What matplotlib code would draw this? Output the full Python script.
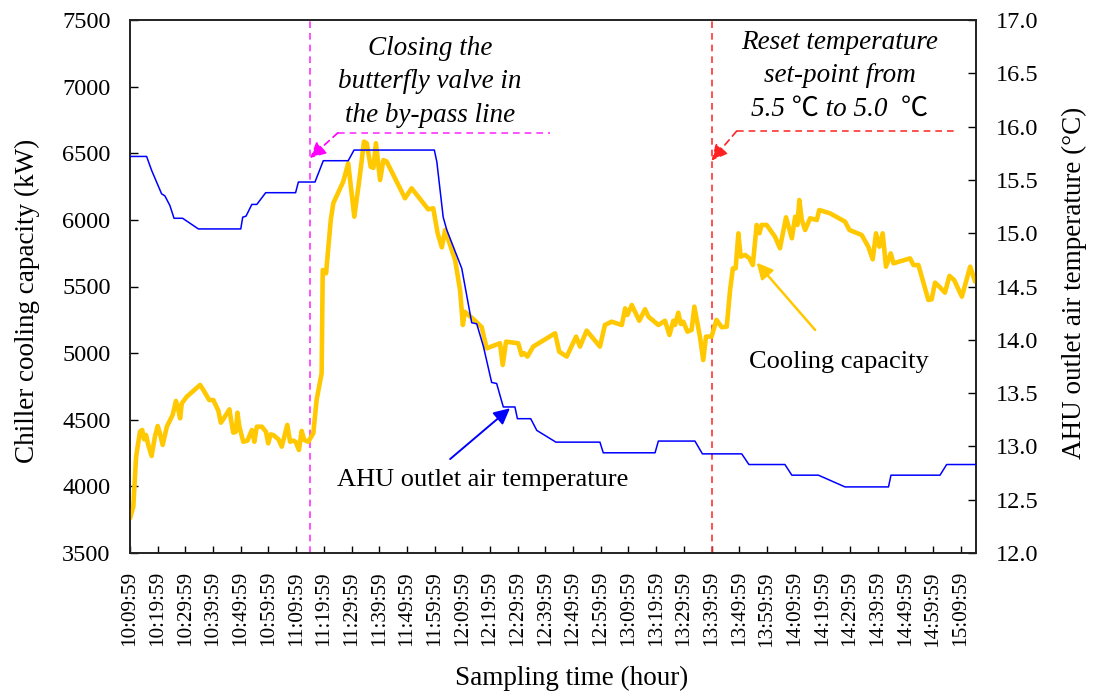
import matplotlib
matplotlib.use("Agg")
import matplotlib.pyplot as plt

plt.rcParams['font.family'] = ['Liberation Serif', 'Noto Sans CJK SC', 'DejaVu Serif']

# minutes after 10:09:59
tick_minutes = list(range(0, 301, 10))
tick_labels = ["10:09:59", "10:19:59", "10:29:59", "10:39:59", "10:49:59", "10:59:59",
               "11:09:59", "11:19:59", "11:29:59", "11:39:59", "11:49:59", "11:59:59",
               "12:09:59", "12:19:59", "12:29:59", "12:39:59", "12:49:59", "12:59:59",
               "13:09:59", "13:19:59", "13:29:59", "13:39:59", "13:49:59", "13:59:59",
               "14:09:59", "14:19:59", "14:29:59", "14:39:59", "14:49:59", "14:59:59",
               "15:09:59"]

# Chiller cooling capacity (kW)
cap_t = [0.0, 1.2, 2.2, 3.6, 4.4, 5.1, 5.8, 6.6, 7.8, 9.0, 10.0, 10.8, 11.8, 12.6, 13.3,
         15.4, 16.6, 17.2, 18.1, 18.7, 20.5, 25.3, 26.5, 28.6, 30.1, 31.9, 32.8, 33.9,
         35.9, 36.5, 37.3, 38.2, 38.8, 39.5, 40.9, 42.4, 44.0, 44.9, 45.8, 47.6, 49.1,
         49.9, 50.8, 51.8, 53.6, 54.8, 56.8, 57.8, 59.0, 59.8, 61.0, 62.0, 62.9, 64.4,
         66.2, 67.4, 69.2, 69.6, 70.8, 72.5, 73.4, 77.0, 78.8, 81.0, 82.8, 84.5, 85.5,
         86.9, 87.9, 88.8, 90.3, 91.5, 92.7, 99.3, 101.7, 107.7, 109.5, 111.1, 112.6,
         113.8, 117.4, 119.2, 120.2, 120.9, 124.0, 127.0, 128.8, 133.6, 134.6, 135.8,
         140.2, 141.4, 142.3, 143.5, 145.6, 153.5, 155.0, 157.7, 161.1, 162.5, 164.9,
         169.7, 171.5, 173.9, 177.6, 178.8, 179.6, 181.2, 183.9, 186.0, 187.2, 190.8,
         193.2, 194.8, 196.2, 196.8, 198.0, 198.9, 199.8, 201.3, 202.8, 203.8, 205.8,
         207.0, 208.0, 210.0, 211.8, 213.7, 215.5, 216.7, 217.7, 218.7, 219.7, 220.5,
         222.1, 223.7, 224.9, 226.3, 227.3, 228.1, 229.9, 232.9, 234.7, 236.9, 239.0,
         240.2, 241.0, 241.7, 242.6, 243.8, 245.6, 248.0, 248.9, 252.8, 258.2, 259.8,
         264.2, 266.6, 268.2, 269.4, 270.6, 271.8, 273.0, 274.7, 275.7, 281.7, 282.9,
         284.7, 288.3, 289.5, 290.7, 292.5, 294.3, 295.9, 297.6, 300.4, 303.4, 305.2]
cap_kw = [3760, 3848, 4223, 4410, 4423, 4353, 4386, 4311, 4228, 4373, 4453, 4398, 4311, 4386, 4448,
          4536, 4641, 4598, 4511, 4623, 4673, 4761, 4723, 4648, 4648, 4568, 4478, 4511,
          4578, 4498, 4403, 4410, 4553, 4448, 4335, 4343, 4423, 4335, 4448, 4448, 4410,
          4323, 4390, 4385, 4353, 4298, 4461, 4335, 4343, 4335, 4273, 4416, 4348, 4335,
          4400, 4650, 4849, 5624, 5599, 5999, 6124, 6287, 6424, 6024, 6299, 6587, 6575,
          6399, 6390, 6575, 6299, 6449, 6437, 6162, 6237, 6079, 6087, 5899, 5794,
          5924, 5699, 5470, 5211, 5310, 5255, 5195, 5036, 5074, 4911, 5086,
          5074, 4986, 5000, 4974, 5049, 5149, 5011, 4974, 5124, 5049, 5169,
          5049, 5211, 5236, 5211, 5336, 5286, 5361, 5243, 5329, 5274, 5211,
          5243, 5136, 5243, 5211, 5303, 5219, 5236, 5161, 5174, 5349, 5124,
          4948, 5124, 5124, 5249, 5194, 5199, 5474, 5636, 5636, 5899, 5724,
          5737, 5711, 5661, 5962, 5899, 5962, 5962, 5874, 5787, 6019, 5862,
          6024, 5962, 6149, 5999, 5924, 6012, 5999, 6074, 6049, 5987, 5924,
          5887, 5799, 5704, 5899, 5799, 5899, 5649, 5749, 5674, 5711, 5661,
          5661, 5399, 5404, 5529, 5494, 5454, 5579, 5549, 5424, 5649, 5536]

# AHU outlet air temperature (°C)
ahu_t = [0.0, 6.0, 7.8, 11.4, 12.6, 14.4, 15.9, 19.0, 24.7, 40.0, 40.7, 41.9, 44.0, 45.8,
         49.0, 59.8, 60.8, 66.8, 69.8, 78.8, 80.9, 109.9, 110.8, 113.1, 114.4, 119.8,
         123.4, 125.2, 127.6, 130.6, 132.4, 134.8, 139.0, 139.9, 144.7, 146.9, 153.8,
         169.7, 170.9, 189.6, 190.8, 204.0, 206.7, 220.9, 223.5, 236.5, 239.0, 248.6,
         258.2, 273.9, 274.8, 292.5, 294.9, 305.9]
ahu_temp = [15.72, 15.72, 15.59, 15.37, 15.35, 15.26, 15.14, 15.14, 15.04, 15.04, 15.15, 15.16,
            15.27, 15.27, 15.38, 15.38, 15.48, 15.48, 15.68, 15.68, 15.78, 15.78, 15.67,
            15.15, 15.03, 14.67, 14.16, 14.15, 13.94, 13.60, 13.59, 13.37, 13.37, 13.26,
            13.26, 13.15, 13.04, 13.04, 12.94, 12.94, 13.05, 13.05, 12.93, 12.93, 12.83,
            12.83, 12.73, 12.73, 12.62, 12.62, 12.73, 12.73, 12.83, 12.83]

fig = plt.figure(figsize=(10.96, 6.95), dpi=100)
ax = fig.add_axes([130/1096, 1-553/695, (976-130)/1096, (553-20)/695])
ax2 = ax.twinx()

ax.plot(cap_t, cap_kw, color='#FFC800', lw=3.3, solid_joinstyle='round',
        solid_capstyle='round', zorder=3)
ax2.plot(ahu_t, ahu_temp, color='#0000FF', lw=1.1, zorder=3)

ax.set_xlim(0, 305.5)
ax.set_ylim(3500, 7500)
ax2.set_ylim(12.0, 17.0)
ax.set_yticks(range(3500, 7501, 500))
ax2.set_yticks([12.0 + 0.5 * i for i in range(11)])
ax2.set_yticklabels(["%.1f" % (12.0 + 0.5 * i) for i in range(11)])
ax.set_xticks(tick_minutes)
ax.set_xticklabels(tick_labels, rotation=90, fontsize=15.3)

for a in (ax, ax2):
    for s in a.spines.values():
        s.set_linewidth(1.2)
        s.set_color('#222222')
ax.tick_params(axis='y', direction='in', length=6, width=1.0, labelsize=17.5, pad=14)
ax.tick_params(axis='x', direction='in', length=5, width=1.0, pad=13)
ax2.tick_params(axis='y', direction='in', length=6, width=1.0, labelsize=17.5, pad=14)

# vertical event lines
ax.axvline(65, color='#FF33FF', lw=1.2, ls=(0, (4, 3)), zorder=2)
ax.axvline(210, color='#FF3333', lw=1.2, ls=(0, (4, 3)), zorder=2)

# magenta annotation
ax.plot([75.1, 151.7], [6654, 6654], color='#FF33FF', lw=1.2, ls=(0, (4, 3)))
ax.annotate('', xy=(65, 6464), xytext=(75.1, 6654),
            arrowprops=dict(arrowstyle='-|>', color='#FF00FF', lw=1.2, ls=(0, (4, 3)),
                            mutation_scale=24, shrinkA=0, shrinkB=0))
ax.text(108.3, 7035, "Closing the\nbutterfly valve in\nthe by-pass line", fontsize=19.5,
        style='italic', ha='center', va='center', linespacing=1.45)

# red annotation
ax.plot([219.1, 297.4], [6667, 6667], color='#FF3333', lw=1.2, ls=(0, (4, 3)))
ax.annotate('', xy=(210, 6445), xytext=(219.1, 6667),
            arrowprops=dict(arrowstyle='-|>', color='#FF2222', lw=1.2, ls=(0, (4, 3)),
                            mutation_scale=24, shrinkA=0, shrinkB=0))
ax.text(256.4, 7080, "Reset temperature\nset-point from\n5.5 \u2103 to 5.0  \u2103", fontsize=19.5,
        style='italic', ha='center', va='center', linespacing=1.45)

# series annotations
ax.annotate('', xy=(226.3, 5679), xytext=(247.4, 5174),
            arrowprops=dict(arrowstyle='-|>', color='#FFC800', lw=1.8,
                            mutation_scale=24, shrinkA=0, shrinkB=0))
ax.text(256.0, 4933, "Cooling capacity", fontsize=19, ha='center', va='center')
ax.annotate('', xy=(137.2, 4586), xytext=(115.6, 4205),
            arrowprops=dict(arrowstyle='-|>', color='#0000FF', lw=1.4,
                            mutation_scale=24, shrinkA=0, shrinkB=0))
ax.text(74.8, 4048, "AHU outlet air temperature", fontsize=19, ha='left', va='center')

fig.text(27/1096, 1-301/695, "Chiller cooling capacity (kW)", rotation=90,
         fontsize=19.5, ha='center', va='center')
fig.text(1074/1096, 1-283/695, "AHU outlet air temperature (\u00b0C)", rotation=90,
         fontsize=19.5, ha='center', va='center')
fig.text(572/1096, 1-678/695, "Sampling time (hour)", fontsize=19.5, ha='center', va='center')

fig.savefig("out.png", dpi=100)
